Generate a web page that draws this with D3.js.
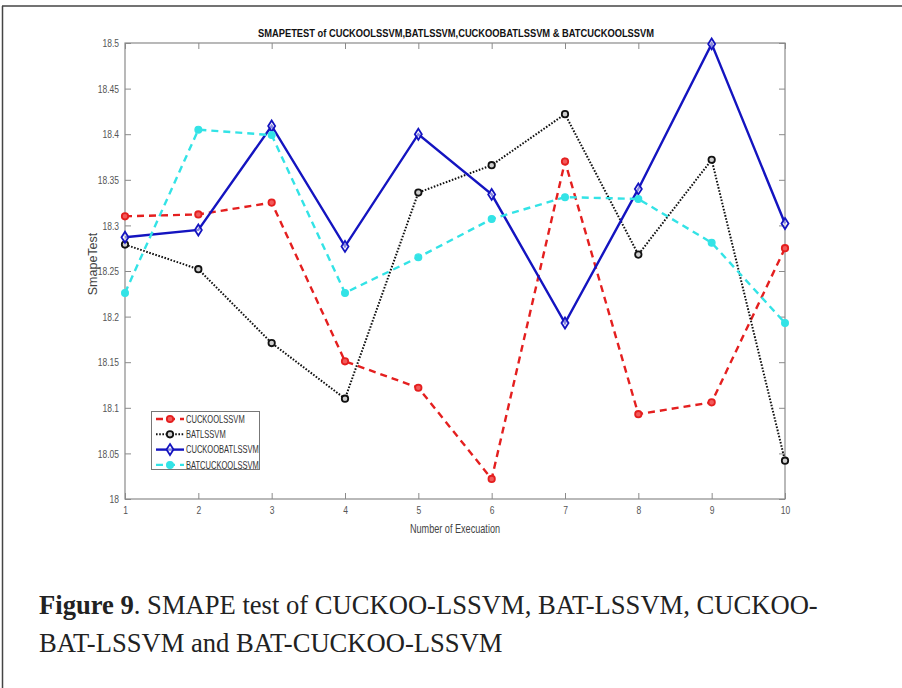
<!DOCTYPE html>
<html>
<head>
<meta charset="utf-8">
<script src="https://cdn.jsdelivr.net/npm/d3@7"></script>
<style>
  html, body { margin: 0; padding: 0; background: #fff; }
  svg { display: block; }
</style>
</head>
<body>
<svg id="chart" width="902" height="688"></svg>
<script>
const executions = [1, 2, 3, 4, 5, 6, 7, 8, 9, 10];
const cuckooLSSVM = [18.310, 18.312, 18.325, 18.151, 18.122, 18.022, 18.370, 18.093, 18.106, 18.275];
const batLSSVM = [18.279, 18.252, 18.171, 18.110, 18.336, 18.366, 18.422, 18.268, 18.372, 18.042];
const cuckooBatLSSVM = [18.287, 18.295, 18.409, 18.277, 18.400, 18.334, 18.193, 18.340, 18.499, 18.302];
const batCuckooLSSVM = [18.226, 18.405, 18.399, 18.226, 18.265, 18.307, 18.331, 18.329, 18.281, 18.193];
const yTicks = [18, 18.05, 18.1, 18.15, 18.2, 18.25, 18.3, 18.35, 18.4, 18.45, 18.5];
const yTickLabels = ["18", "18.05", "18.1", "18.15", "18.2", "18.25", "18.3", "18.35", "18.4", "18.45", "18.5"];
const seriesNames = ["CUCKOOLSSVM", "BATLSSVM", "CUCKOOBATLSSVM", "BATCUCKOOLSSVM"];
const titleText = "SMAPETEST of CUCKOOLSSVM,BATLSSVM,CUCKOOBATLSSVM & BATCUCKOOLSSVM";
const xLabel = "Number of Execuation";
const yLabel = "SmapeTest";

const series = [
  { name: seriesNames[0], values: cuckooLSSVM, color: "#e41f1f", dash: "7,5", width: 2.4, marker: "circle", fill: "#f25a5a" },
  { name: seriesNames[1], values: batLSSVM, color: "#111111", dash: "1.6,1.6", width: 2.0, marker: "circle", fill: "#cfcfcf" },
  { name: seriesNames[2], values: cuckooBatLSSVM, color: "#1414c0", dash: null, width: 2.4, marker: "diamond" },
  { name: seriesNames[3], values: batCuckooLSSVM, color: "#33e3e6", dash: "7,5", width: 2.4, marker: "dot" }
];

const svg = d3.select("#chart");
const sans = "'Liberation Sans', Arial, sans-serif";

// squeeze text horizontally (narrow font look)
function squeeze(sel, f) {
  sel.each(function () {
    const t = d3.select(this);
    const xx = +t.attr("x") || 0;
    const yy = +t.attr("y") || 0;
    const prev = t.attr("transform") || "";
    t.attr("x", 0).attr("y", 0).attr("transform", `${prev} translate(${xx},${yy}) scale(${f},1)`);
  });
}

// outer frame (top and left only)
svg.append("line").attr("x1", 2).attr("x2", 902).attr("y1", 6).attr("y2", 6)
  .attr("stroke", "#444").attr("stroke-width", 1.5);
svg.append("line").attr("x1", 2.5).attr("x2", 2.5).attr("y1", 6).attr("y2", 688)
  .attr("stroke", "#444").attr("stroke-width", 1.5);

const L = 125, R = 785, T = 43, B = 499;
const x = d3.scaleLinear().domain([1, 10]).range([L, R]);
const y = d3.scaleLinear().domain([18, 18.5]).range([B, T]);

const axisColor = "#8a8a8a";
const g = svg.append("g");

const xAxisB = d3.axisBottom(x).tickValues(executions).tickSize(-6).tickPadding(7).tickFormat(d3.format("d"));
const xAxisT = d3.axisTop(x).tickValues(executions).tickSize(-6).tickFormat("");
const yAxisL = d3.axisLeft(y).tickValues(yTicks).tickSize(-6).tickPadding(6).tickFormat((d, i) => yTickLabels[i]);
const yAxisR = d3.axisRight(y).tickValues(yTicks).tickSize(-6).tickFormat("");

function styleAxis(sel) {
  sel.selectAll("line").attr("stroke", axisColor).attr("stroke-width", 1);
  sel.selectAll("text").attr("fill", "#555").style("font-family", sans).style("font-size", "11.5px");
  squeeze(sel.selectAll("text"), 0.74);
}
g.append("g").attr("transform", `translate(0,${B})`).call(xAxisB).call(styleAxis);
g.append("g").attr("transform", `translate(0,${T})`).call(xAxisT).call(styleAxis);
g.append("g").attr("transform", `translate(${L},0)`).call(yAxisL).call(styleAxis);
g.append("g").attr("transform", `translate(${R},0)`).call(yAxisR).call(styleAxis);
g.selectAll(".domain").remove();
g.append("rect").attr("x", L).attr("y", T).attr("width", R - L).attr("height", B - T)
  .attr("fill", "none").attr("stroke", axisColor).attr("stroke-width", 1.2);

// title and labels
svg.append("text").attr("x", 258).attr("y", 37)
  .attr("textLength", 396).attr("lengthAdjust", "spacingAndGlyphs")
  .style("font-family", sans).style("font-size", "11.5px").style("font-weight", "bold")
  .attr("fill", "#111").text(titleText);
svg.append("text").attr("x", 455).attr("y", 533).attr("text-anchor", "middle")
  .style("font-family", sans).style("font-size", "12px").attr("fill", "#444").text(xLabel)
  .call(squeeze, 0.76);
svg.append("text").attr("transform", `translate(97,264) rotate(-90)`).attr("text-anchor", "middle")
  .style("font-family", sans).style("font-size", "12.5px").attr("fill", "#444").text(yLabel);

const line = d3.line().x((d, i) => x(executions[i])).y(d => y(d));

function drawMarker(sel, s, cx, cy) {
  if (s.marker === "diamond") {
    sel.append("path")
      .attr("d", `M${cx},${cy - 5.5} L${cx + 3.5},${cy} L${cx},${cy + 5.5} L${cx - 3.5},${cy} Z`)
      .attr("fill", "#fff").attr("fill-opacity", 0.5).attr("stroke", s.color).attr("stroke-width", 1.8);
  } else if (s.marker === "dot") {
    sel.append("circle").attr("cx", cx).attr("cy", cy).attr("r", 3.4)
      .attr("fill", s.color).attr("stroke", s.color).attr("stroke-width", 1.2);
  } else {
    sel.append("circle").attr("cx", cx).attr("cy", cy).attr("r", 3.2)
      .attr("fill", s.fill).attr("stroke", s.color).attr("stroke-width", 1.8);
  }
}

const plot = svg.append("g");
series.forEach(s => {
  plot.append("path").datum(s.values).attr("d", line)
    .attr("fill", "none").attr("stroke", s.color).attr("stroke-width", s.width)
    .attr("stroke-dasharray", s.dash).attr("stroke-linejoin", "miter");
  const mg = plot.append("g");
  s.values.forEach((v, i) => drawMarker(mg, s, x(executions[i]), y(v)));
});

// legend
const lg = svg.append("g");
lg.append("rect").attr("x", 151.5).attr("y", 411.5).attr("width", 108).attr("height", 58)
  .attr("fill", "#fff").attr("stroke", "#777").attr("stroke-width", 1);
series.forEach((s, i) => {
  const ly = 419 + i * 15.3;
  lg.append("line").attr("x1", 156).attr("x2", 184).attr("y1", ly).attr("y2", ly)
    .attr("stroke", s.color).attr("stroke-width", s.width).attr("stroke-dasharray", s.dash);
  drawMarker(lg, s, 170, ly);
  lg.append("text").attr("x", 186).attr("y", ly + 3.8)
    .style("font-family", sans).style("font-size", "10.5px").attr("fill", "#333").text(s.name)
    .call(squeeze, 0.72);
});

// caption
const serif = "'Liberation Serif', 'Times New Roman', serif";
const cap = svg.append("text").attr("x", 39).attr("y", 614)
  .style("font-family", serif).style("font-size", "26.6px").attr("fill", "#222");
cap.append("tspan").style("font-weight", "bold").text("Figure 9");
cap.append("tspan").text(". SMAPE test of CUCKOO-LSSVM, BAT-LSSVM, CUCKOO-");
svg.append("text").attr("x", 39).attr("y", 652)
  .style("font-family", serif).style("font-size", "26.6px").attr("fill", "#222")
  .text("BAT-LSSVM and BAT-CUCKOO-LSSVM");
</script>
</body>
</html>
